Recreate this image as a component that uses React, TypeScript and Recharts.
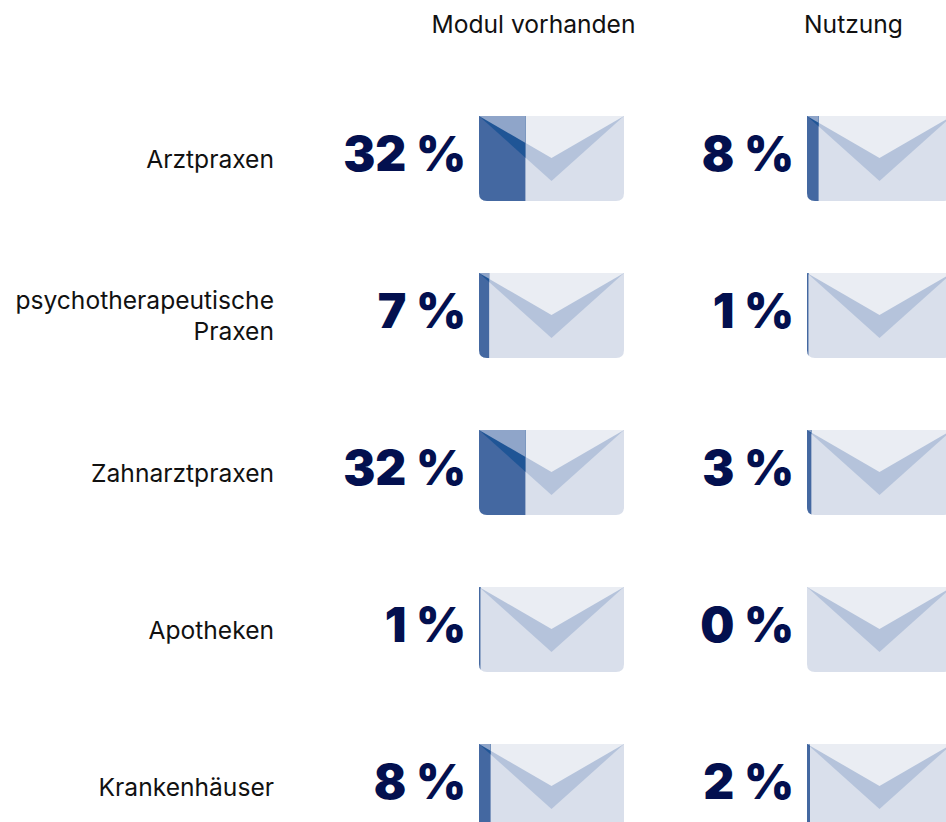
import { Bar, BarChart, LabelList, XAxis, YAxis } from "recharts"

const categories = ["Arztpraxen", "psychotherapeutische Praxen", "Zahnarztpraxen", "Apotheken", "Krankenhäuser"]
const modulValues = [32, 7, 32, 1, 8]
const nutzungValues = [8, 1, 3, 0, 2]

const modulData = categories.map((category, i) => ({ category, value: modulValues[i] }))
const nutzungData = categories.map((category, i) => ({ category, value: nutzungValues[i] }))

const NAVY = "#03104f"
const FONT = "Inter, sans-serif"

function Envelope(props: any) {
  const { x, width, background, index, prefix } = props
  const bx = background.x
  const by = background.y
  const w = background.width
  const h = background.height
  const r = 8
  const cx = bx + w / 2
  const body = `M${bx},${by} H${bx + w} V${by + h - r} Q${bx + w},${by + h} ${bx + w - r},${by + h} H${bx + r} Q${bx},${by + h} ${bx},${by + h - r} Z`
  const chevron = `${bx},${by} ${bx + w},${by} ${cx},${by + 65}`
  const flap = `${bx},${by} ${bx + w},${by} ${cx},${by + 42}`
  const clipId = `${prefix}-fill-${index}`
  return (
    <g>
      <path d={body} fill="#d9dfeb" />
      <polygon points={chevron} fill="#b5c3db" />
      <polygon points={flap} fill="#eaedf3" />
      <clipPath id={clipId}>
        <rect x={x} y={by} width={width} height={h} />
      </clipPath>
      <g clipPath={`url(#${clipId})`}>
        <path d={body} fill="#4468a1" />
        <polygon points={chevron} fill="#1f5596" />
        <polygon points={flap} fill="#8fa5c9" />
      </g>
    </g>
  )
}

function PercentLabel(props: any) {
  const { x, y, height, value } = props
  return (
    <text x={x - 13} y={y + height / 2 - 5} textAnchor="end" dominantBaseline="central" fontFamily={FONT} fontWeight={900} fontSize={48} fill={NAVY}>
      {value} %
    </text>
  )
}

function CategoryTick(props: any) {
  const { x, y, payload } = props
  const lines = String(payload.value).split(" ")
  const top = y - ((lines.length - 1) * 31) / 2
  return (
    <text textAnchor="end" fontFamily={FONT} fontSize={24.6} fill="#111111">
      {lines.map((line, i) => (
        <tspan key={line} x={x - 197} y={top + i * 31} dominantBaseline="central">
          {line}
        </tspan>
      ))}
    </text>
  )
}

function Panel(props: any) {
  const { data, title, left, prefix, showCategories, titleDx } = props
  return (
    <div style={{ position: "absolute", left: 0, top: 0 }}>
      <BarChart
        width={960}
        height={900}
        data={data}
        layout="vertical"
        barSize={85}
        margin={{ top: 10, bottom: 35, left: showCategories ? 0 : left, right: 960 - left - 145 }}
      >
        <XAxis
          type="number"
          orientation="top"
          domain={[0, 100]}
          height={70}
          tick={false}
          axisLine={false}
          tickLine={false}
          label={{ value: title, position: "insideTop", dx: titleDx, dy: 1, fontFamily: FONT, fontSize: 24.6, fill: "#111111" }}
        />
        <YAxis
          type="category"
          dataKey="category"
          width={showCategories ? left : 0}
          hide={!showCategories}
          axisLine={false}
          tickLine={false}
          interval={0}
          tick={<CategoryTick />}
        />
        <Bar
          dataKey="value"
          isAnimationActive={false}
          background={{ fill: "none" }}
          shape={(p: any) => <Envelope {...p} prefix={prefix} />}
        >
          <LabelList dataKey="value" content={<PercentLabel />} />
        </Bar>
      </BarChart>
    </div>
  )
}

export default function App() {
  return (
    <div style={{ position: "absolute", left: 0, top: 0, width: 946, height: 822, overflow: "hidden", background: "#ffffff" }}>
      <Panel data={modulData} title="Modul vorhanden" left={479} prefix="modul" showCategories titleDx={-18} />
      <Panel data={nutzungData} title="Nutzung" left={807} prefix="nutzung" showCategories={false} titleDx={-26} />
    </div>
  )
}
